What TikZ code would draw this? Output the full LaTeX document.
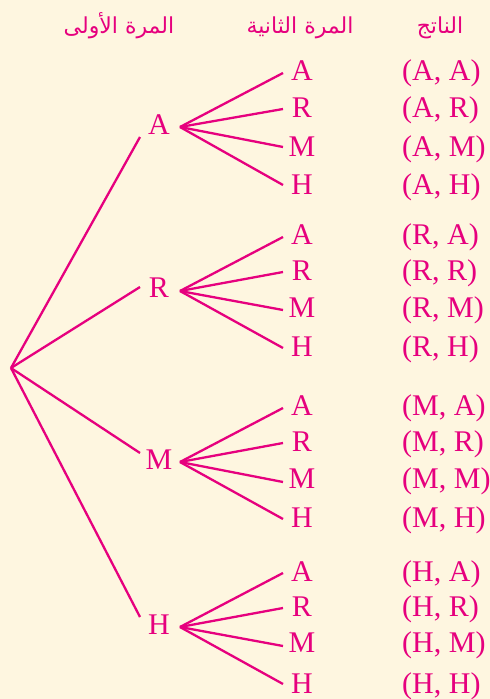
\documentclass[tikz,border=0pt]{standalone}
\usepackage{fontspec}
\setmainfont{Liberation Serif}
\newfontfamily\arabicfont[Script=Arabic]{DejaVu Sans}
\TeXXeTstate=1
\definecolor{mag}{RGB}{230,0,126}
\definecolor{cream}{RGB}{254,246,224}
\begin{document}
\begin{tikzpicture}[x=1pt,y=-1pt,
  lbl/.style={text=mag,font=\fontsize{30}{30}\selectfont,inner sep=0pt,anchor=base},
  res/.style={lbl,anchor=base west},
  hdr/.style={text=mag,font=\arabicfont\fontsize{22}{22}\selectfont,inner sep=0pt,anchor=base},
  branch/.style={draw=mag,line width=2.3pt}]
\fill[cream] (0,0) rectangle (490,699);
\useasboundingbox (0,0) rectangle (490,699);
% headers
\node[hdr] (h1) at (119,33) {\beginR المرة الأولى\endR};
\node[hdr] (h2) at (300,33) {\beginR المرة الثانية\endR};
\node[hdr] (h3) at (440,33) {\beginR الناتج\endR};
% root
\coordinate (root) at (11,368);
% first level
\foreach \n/\ly/\iy/\oy in {A/134/137/127, R/297/287/291, M/469/453/462, H/634/617/627}{
  \node[lbl] (\n) at (159,\ly) {\n};
  \coordinate (\n-in) at (140,\iy);
  \coordinate (\n-out) at (180,\oy);
  \draw[branch] (root) -- (\n-in);
}
% second level and outcomes
\foreach \g/\ya/\yb/\yc/\yd/\ea/\eb/\ec/\ed in {
  A/70/107/146/184/73/109/147/185,
  R/234/270/307/346/237/272/310/348,
  M/405/441/478/517/408/443/482/519,
  H/571/606/642/683/573/608/646/684}{
  \foreach \s/\y/\e in {A/\ya/\ea, R/\yb/\eb, M/\yc/\ec, H/\yd/\ed}{
    \node[lbl] (\g\s) at (302,\y+10) {\s};
    \coordinate (\g\s-end) at (283,\e);
    \draw[branch] (\g-out) -- (\g\s-end);
    \node[res] (\g\s-r) at (402,\y+10) {(\g, \s)};
  }
}
\end{tikzpicture}
\end{document}
